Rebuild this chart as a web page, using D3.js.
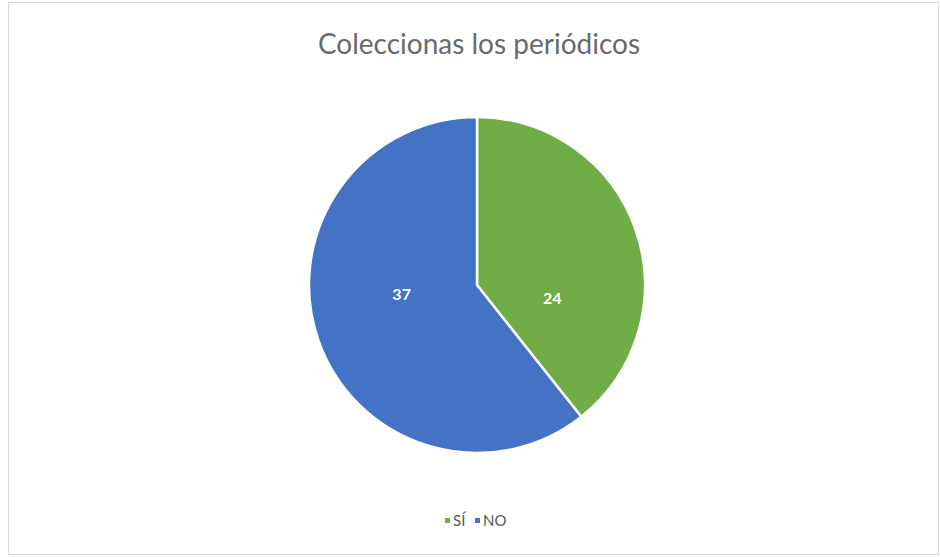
<!DOCTYPE html>
<html><head><meta charset="utf-8">
<script src="https://cdn.jsdelivr.net/npm/d3@7"></script>
<style>body{margin:0;background:#fff}svg{display:block}</style>
</head><body>
<svg id="c" width="940" height="557"></svg>
<script>
const categories = ["SÍ", "NO"];
const values = [24, 37];
const colors = ["#70AD47", "#4472C4"];
const title = "Coleccionas los periódicos";

const svg = d3.select("#c");
svg.append("rect").attr("x", 8.5).attr("y", 2.5).attr("width", 930).attr("height", 552)
  .attr("fill", "#fff").attr("stroke", "#d9d9d9");

svg.append("text").attr("x", 479).attr("y", 54).attr("text-anchor", "middle")
  .attr("font-family", "Lato, 'Open Sans', sans-serif").attr("font-size", 28)
  .attr("fill", "#6a6a6a").text(title);

const cx = 477, cy = 285, r = 168;
const data = categories.map((c, i) => ({c, v: values[i], col: colors[i]}));
const pie = d3.pie().value(d => d.v).sort(null);
const arc = d3.arc().innerRadius(0).outerRadius(r);
const g = svg.append("g").attr("transform", `translate(${cx},${cy})`);
const arcs = pie(data);
g.selectAll("path").data(arcs).enter().append("path")
  .attr("d", arc).attr("fill", d => d.data.col)
  .attr("stroke", "#fff").attr("stroke-width", 2.5).attr("stroke-linejoin", "round");

const lab = d3.arc().innerRadius(r * 0.95).outerRadius(0);
g.selectAll("text.l").data(arcs).enter().append("text")
  .attr("x", d => lab.centroid(d)[0])
  .attr("y", (d, i) => i === 0 ? 13 : 9)
  .attr("text-anchor", "middle").attr("dy", "0.35em")
  .attr("font-family", "Lato, 'Open Sans', sans-serif").attr("font-weight", "bold")
  .attr("font-size", 16).attr("fill", "#fff").text(d => d.data.v);

// legend
const lg = svg.append("g").attr("font-family", "Lato, 'Open Sans', sans-serif").attr("font-size", 15).attr("fill", "#595959");
const items = [{x: 445}, {x: 475}];
data.forEach((d, i) => {
  const x = items[i].x;
  lg.append("rect").attr("x", x).attr("y", 518).attr("width", 5).attr("height", 5).attr("fill", d.col);
  lg.append("text").attr("x", x + 8).attr("y", 526).text(d.c);
});
</script>
</body></html>
